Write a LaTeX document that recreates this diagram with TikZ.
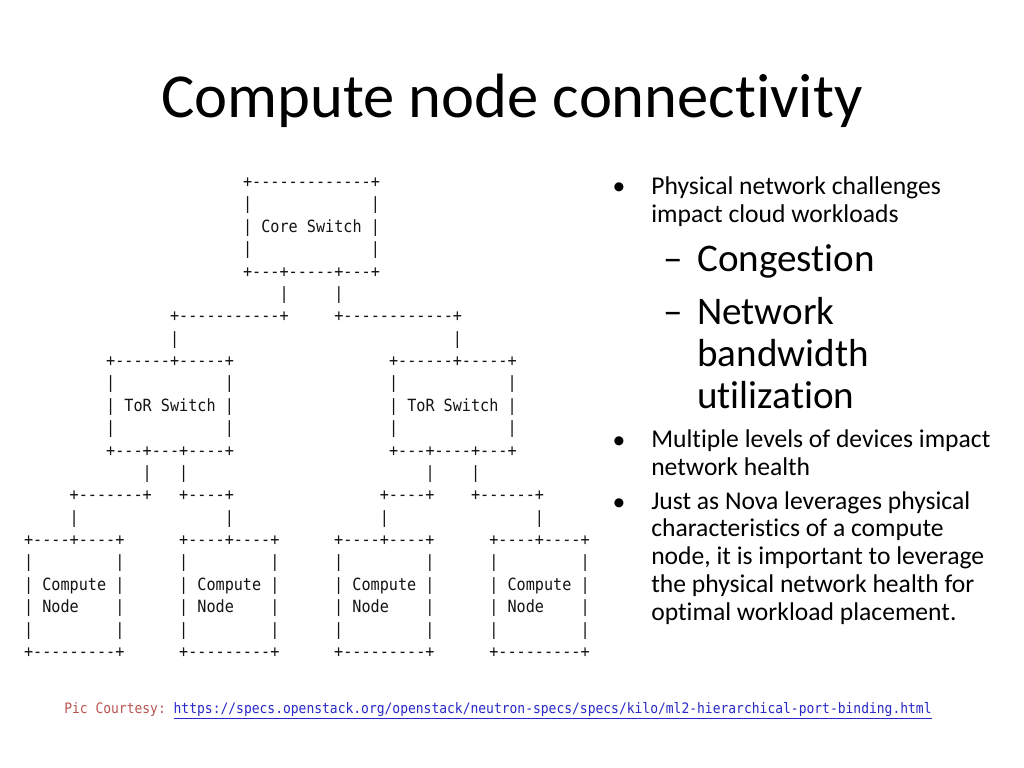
\documentclass[tikz,border=0pt]{standalone}
\usepackage{fontspec}
\setmainfont{Carlito}[Ligatures={TeX,NoCommon}]
\setmonofont{DejaVu Sans Mono}[FakeStretch=0.9]

\definecolor{artgrey}{RGB}{20,20,20}
\definecolor{creditred}{RGB}{185,85,80}
\definecolor{linkblue}{RGB}{40,40,200}

% blank run of #1 characters in the (narrowed) monospaced font
\newcommand\artsp[1]{\hspace*{#1\dimexpr 0.541845em\relax}}

\tikzset{
  art/.style={font=\ttfamily\fontsize{11.84}{15.74}\selectfont, text=artgrey,
    inner sep=0pt, anchor=base west},
  body/.style={font=\fontsize{18}{19.5}\selectfont, inner sep=0pt,
    anchor=base west, align=left},
  sub/.style={font=\fontsize{27.5}{29.5}\selectfont, inner sep=0pt,
    anchor=base west, align=left},
  bulletmark/.style={font=\fontsize{18}{19.5}\selectfont, inner sep=0pt, anchor=base},
  footer/.style={font=\ttfamily\fontsize{10.14}{12}\selectfont, inner sep=0pt,
    anchor=base west}
}

\begin{document}
\begin{tikzpicture}
  [x=0.703125pt, y=-0.703125pt]
  \useasboundingbox[fill=white] (0,0) rectangle (1024,768);

  \node[font=\fontsize{44}{52}\selectfont, inner sep=0pt, anchor=base] (title)
    at (512,118) {Compute node connectivity};

  % ascii drawing, one node per text row
  \foreach \c/\txt [count=\r from 0] in {
    24/{+-------------+},
    24/{|\artsp{13}|},
    24/{| Core Switch |},
    24/{|\artsp{13}|},
    24/{+---+-----+---+},
    28/{|\artsp{5}|},
    16/{+-----------+\artsp{5}+------------+},
    16/{|\artsp{30}|},
    9/{+------+-----+\artsp{17}+------+-----+},
    9/{|\artsp{12}|\artsp{17}|\artsp{12}|},
    9/{| ToR Switch |\artsp{17}| ToR Switch |},
    9/{|\artsp{12}|\artsp{17}|\artsp{12}|},
    9/{+---+---+----+\artsp{17}+---+----+---+},
    13/{|\artsp{3}|\artsp{26}|\artsp{4}|},
    5/{+-------+\artsp{3}+----+\artsp{16}+----+\artsp{4}+------+},
    5/{|\artsp{16}|\artsp{16}|\artsp{16}|},
    0/{+----+----+\artsp{6}+----+----+\artsp{6}+----+----+\artsp{6}+----+----+},
    0/{|\artsp{9}|\artsp{6}|\artsp{9}|\artsp{6}|\artsp{9}|\artsp{6}|\artsp{9}|},
    0/{| Compute |\artsp{6}| Compute |\artsp{6}| Compute |\artsp{6}| Compute |},
    0/{| Node\artsp{4}|\artsp{6}| Node\artsp{4}|\artsp{6}| Node\artsp{4}|\artsp{6}| Node\artsp{4}|},
    0/{|\artsp{9}|\artsp{6}|\artsp{9}|\artsp{6}|\artsp{9}|\artsp{6}|\artsp{9}|},
    0/{+---------+\artsp{6}+---------+\artsp{6}+---------+\artsp{6}+---------+}}
  \node[art] (row\r) at ({23.74+9.126*\c}, {187.5+22.38*\r}) {\txt};

  % bullet list (a multi-line node sits on the baseline of its last line)
  \node[bulletmark] (d1) at (619,195) {\textbullet};
  \node[body] (b1) at (651,222.7) {Physical network challenges\\impact cloud workloads};
  \node[sub] (e1) at (663,271.7) {\textendash};
  \node[sub] (s1) at (697,271.7) {Congestion};
  \node[sub] (e2) at (663,324.3) {\textendash};
  \node[sub] (s2) at (697,408) {Network\\bandwidth\\utilization};
  \node[bulletmark] (d2) at (619,448) {\textbullet};
  \node[body] (b2) at (651,475.5) {Multiple levels of devices impact\\network health};
  \node[bulletmark] (d3) at (619,510) {\textbullet};
  \node[body] (b3) at (651,620) {Just as Nova leverages physical\\characteristics of a compute\\node, it is important to leverage\\the physical network health for\\optimal workload placement.};

  \node[footer] (credit) at (64,713) {\textcolor{creditred}{Pic Courtesy:}\artsp{1}%
    \textcolor{linkblue}{\underline{https://specs.openstack.org/openstack/neutron-specs/specs/kilo/ml2-hierarchical-port-binding.html}}};
\end{tikzpicture}
\end{document}
